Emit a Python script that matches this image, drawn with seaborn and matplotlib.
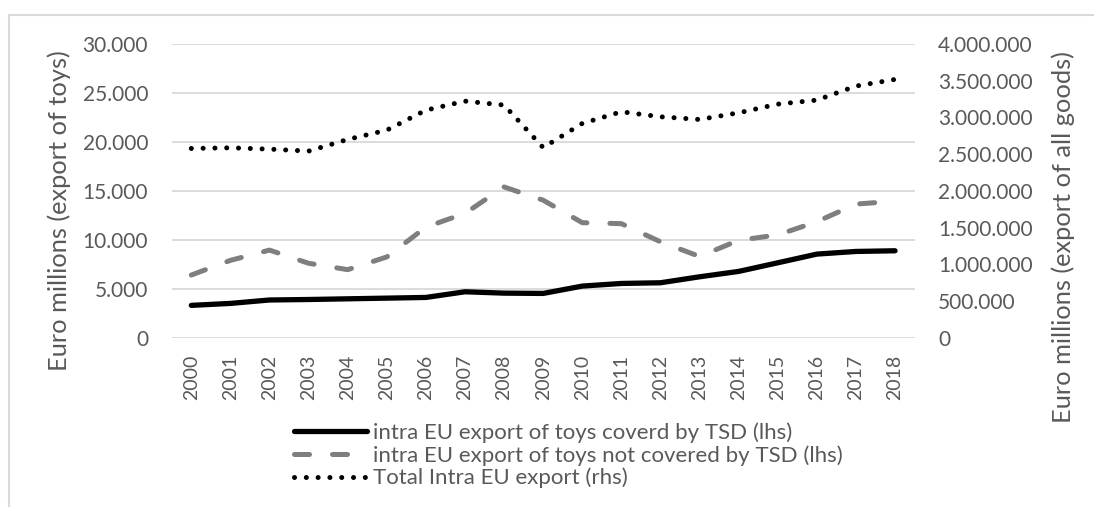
import pandas as pd
import seaborn as sns
import matplotlib.pyplot as plt
from matplotlib.patches import Rectangle
from matplotlib.ticker import FuncFormatter

years = list(range(2000, 2019))
covered_tsd = [3300, 3500, 3850, 3900, 3970, 4040, 4110, 4690, 4550, 4520,
               5270, 5540, 5610, 6220, 6770, 7650, 8540, 8810, 8880]
not_covered_tsd = [6400, 7900, 8950, 7600, 6950, 8250, 11300, 12700, 15400, 14050,
                   11750, 11650, 9800, 8300, 9950, 10500, 11850, 13650, 13950]
total_intra_eu = [2578000, 2587000, 2569000, 2542000, 2701000, 2828000, 3100000,
                  3223000, 3169000, 2590000, 2919000, 3078000, 3010000, 2973000,
                  3064000, 3182000, 3237000, 3428000, 3519000]

labels = ["intra EU export of toys coverd by TSD (lhs)",
          "intra EU export of toys not covered by TSD (lhs)",
          "Total Intra EU export (rhs)"]

df = pd.DataFrame({"year": years, "covered": covered_tsd,
                   "not_covered": not_covered_tsd, "total": total_intra_eu})

sns.set_theme(style="white")
plt.rcParams["font.family"] = ["Lato", "DejaVu Sans"]
text_col = "#595959"
grid_col = "#d9d9d9"


def dotted(x, pos):
    # thousands with dots, like the source
    return f"{int(x):,}".replace(",", ".")


fig = plt.figure(figsize=(10.94, 5.07), dpi=100)
ax = fig.add_axes([0.157, 0.334, 0.679, 0.579])
ax2 = ax.twinx()

sns.lineplot(data=df, x="year", y="covered", ax=ax, color="black", lw=3.8,
             solid_capstyle="round", label=labels[0], legend=False)
sns.lineplot(data=df, x="year", y="not_covered", ax=ax, color="#7f7f7f", lw=3.6,
             dashes=(3, 4.6), dash_capstyle="round", label=labels[1], legend=False)
sns.lineplot(data=df, x="year", y="total", ax=ax2, color="black", lw=3.6,
             dashes=(0.01, 2.35), dash_capstyle="round", label=labels[2], legend=False)

ax.set_xlim(1999.5, 2018.5)
ax.set_ylim(0, 30000)
ax2.set_ylim(0, 4000000)
ax.set_xticks(years)
ax.set_xticklabels([str(y) for y in years], rotation=90)
ax.set_yticks(range(0, 30001, 5000))
ax2.set_yticks(range(0, 4000001, 500000))
ax.yaxis.set_major_formatter(FuncFormatter(dotted))
ax2.yaxis.set_major_formatter(FuncFormatter(dotted))

ax.grid(axis="y", color=grid_col, lw=1.3)
ax.set_axisbelow(True)
for a in (ax, ax2):
    for s in a.spines.values():
        s.set_visible(False)
    a.tick_params(length=0, labelsize=15, colors=text_col)
ax.tick_params(axis="y", pad=17)
ax2.tick_params(axis="y", pad=17)
ax.tick_params(axis="x", pad=12.5, labelsize=14)

ax.set_xlabel("")
ax.set_ylabel("Euro millions (export of toys)", fontsize=18.3, color=text_col)
ax2.set_ylabel("Euro millions (export of all goods)", fontsize=18.3, color=text_col)
# Excel places the titles a bit lower than the axis centre
ax.yaxis.set_label_coords(-0.136, 0.434)
ax2.yaxis.set_label_coords(1.184, 0.342)

handles = ax.get_lines()[:2] + ax2.get_lines()[:1]
fig.legend(handles, labels, loc="upper left", bbox_to_anchor=(0.261, 0.185),
           frameon=False, fontsize=16, handlelength=3.25, handletextpad=0.3,
           labelspacing=0.1, labelcolor=text_col, borderaxespad=0)

fig.patches.append(Rectangle((9 / 1094, -0.1), 1.2, 1.1 - 15 / 507,
                             transform=fig.transFigure, fill=False,
                             edgecolor=grid_col, lw=1.5))

fig.savefig("out.png", dpi=100)
